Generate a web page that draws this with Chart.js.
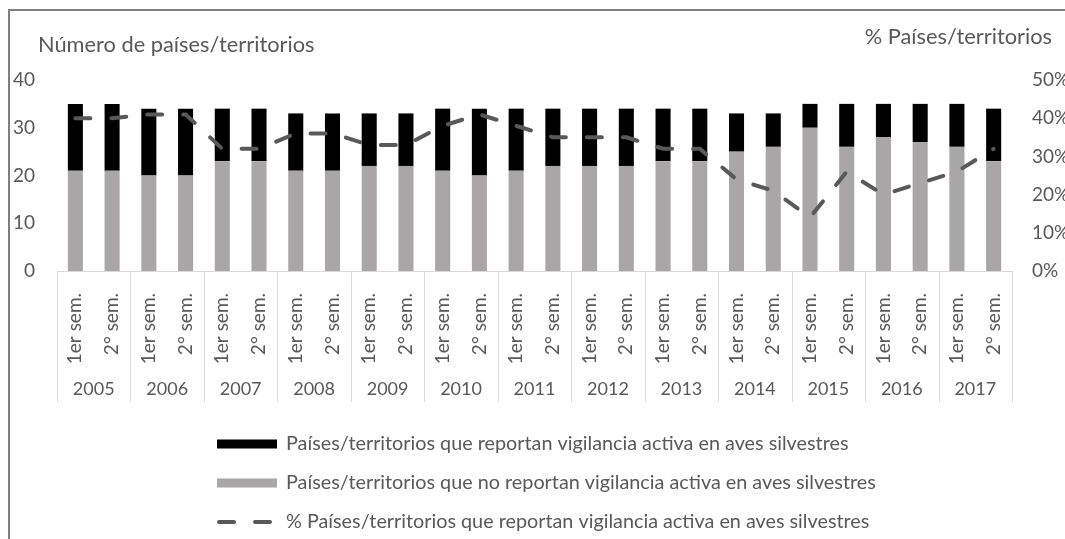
<!DOCTYPE html>
<html>
<head>
<meta charset="utf-8">
<script src="https://cdn.jsdelivr.net/npm/chart.js@4.4.0/dist/chart.umd.min.js"></script>
<style>
  html, body { margin: 0; padding: 0; background: #fff; }
</style>
</head>
<body>
<canvas id="chart" width="1065" height="539"></canvas>
<script>
// Datos
const semLabels = ['1er sem.', '2° sem.', '1er sem.', '2° sem.', '1er sem.', '2° sem.', '1er sem.', '2° sem.',
  '1er sem.', '2° sem.', '1er sem.', '2° sem.', '1er sem.', '2° sem.', '1er sem.', '2° sem.',
  '1er sem.', '2° sem.', '1er sem.', '2° sem.', '1er sem.', '2° sem.', '1er sem.', '2° sem.',
  '1er sem.', '2° sem.'];
const years = ['2005', '2006', '2007', '2008', '2009', '2010', '2011', '2012', '2013', '2014', '2015', '2016', '2017'];
const noReportan = [21, 21, 20, 20, 23, 23, 21, 21, 22, 22, 21, 20, 21, 22, 22, 22, 23, 23, 25, 26, 30, 26, 28, 27, 26, 23];
const reportan = [14, 14, 14, 14, 11, 11, 12, 12, 11, 11, 13, 14, 13, 12, 12, 12, 11, 11, 8, 7, 5, 9, 7, 8, 9, 11];
const pctReportan = [40, 40, 41, 41, 32, 32, 36, 36, 33, 33, 38, 41, 38, 35, 35, 35, 32, 32, 24, 21, 14, 26, 20, 23, 26, 32];
const leftTicks = [0, 10, 20, 30, 40];
const rightTicks = [0, 10, 20, 30, 40, 50];

const FONT = 'Lato';
const TEXT = '#595959';

// Plugin: marco, títulos de ejes, separadores de años y leyenda
const extras = {
  id: 'extras',
  beforeDraw(chart) {
    const c = chart.ctx;
    c.save();
    c.fillStyle = '#fff';
    c.fillRect(0, 0, chart.width, chart.height);
    c.strokeStyle = '#7f7f7f';
    c.lineWidth = 2;
    c.beginPath();
    c.moveTo(9, chart.height);
    c.lineTo(9, 10);
    c.lineTo(chart.width, 10);
    c.stroke();
    c.restore();
  },
  afterDraw(chart) {
    const c = chart.ctx;
    const x = chart.scales.x;
    const x2 = chart.scales.x2;
    c.save();
    // separadores de años
    c.strokeStyle = '#d9d9d9';
    c.lineWidth = 1;
    const step = (x.right - x.left) / years.length;
    for (let i = 0; i <= years.length; i++) {
      const px = Math.round(x.left + i * step) + 0.5;
      c.beginPath();
      c.moveTo(px, x.top);
      c.lineTo(px, x2.bottom);
      c.stroke();
    }
    // títulos de ejes
    c.fillStyle = TEXT;
    c.font = '21.8px ' + FONT;
    c.textBaseline = 'alphabetic';
    c.textAlign = 'left';
    c.fillText('Número de países/territorios', 38, 52);
    c.textAlign = 'right';
    c.fillText('% Países/territorios', 1052, 44);
    // leyenda
    const ds = chart.data.datasets;
    const rows = [ds[2], ds[1], ds[0]];
    c.textAlign = 'left';
    c.textBaseline = 'middle';
    c.font = '19.8px ' + FONT;
    rows.forEach((d, i) => {
      const y = 444 + i * 39;
      if (d.type === 'line') {
        c.strokeStyle = d.borderColor;
        c.lineWidth = d.borderWidth;
        c.lineCap = 'round';
        c.setLineDash(d.borderDash);
        c.beginPath();
        c.moveTo(219, y);
        c.lineTo(276, y);
        c.stroke();
        c.setLineDash([]);
      } else {
        c.fillStyle = d.backgroundColor;
        c.fillRect(217, y - 4.5, 60, 9);
      }
      c.fillStyle = TEXT;
      c.fillText(d.label, 286, y);
    });
    c.restore();
  }
};

new Chart(document.getElementById('chart'), {
  type: 'bar',
  data: {
    labels: semLabels,
    datasets: [
      {
        type: 'line',
        label: '% Países/territorios que reportan vigilancia activa en aves silvestres',
        data: pctReportan,
        yAxisID: 'y1',
        borderColor: '#595959',
        borderWidth: 4,
        borderDash: [15, 21],
        borderCapStyle: 'round',
        pointRadius: 0,
        tension: 0,
        order: 0
      },
      {
        label: 'Países/territorios que no reportan vigilancia activa en aves silvestres',
        data: noReportan,
        backgroundColor: '#a8a6a6',
        barPercentage: 0.82,
        categoryPercentage: 0.5,
        order: 1
      },
      {
        label: 'Países/territorios que reportan vigilancia activa en aves silvestres',
        data: reportan,
        backgroundColor: '#000000',
        barPercentage: 0.82,
        categoryPercentage: 0.5,
        order: 2
      }
    ]
  },
  options: {
    responsive: false,
    animation: false,
    layout: { padding: { left: 0, right: 0, top: 80, bottom: 137 } },
    plugins: {
      legend: { display: false },
      tooltip: { enabled: false }
    },
    scales: {
      x: {
        stacked: true,
        offset: true,
        grid: { display: false },
        border: { display: true, color: '#d9d9d9', width: 1 },
        ticks: {
          autoSkip: false, minRotation: 90, maxRotation: 90,
          padding: 14, color: TEXT, font: { family: FONT, size: 19 }
        },
        afterFit: s => { s.height = 100; }
      },
      x2: {
        type: 'category',
        labels: years,
        position: 'bottom',
        offset: true,
        grid: { display: false },
        border: { display: false },
        ticks: { padding: -1, color: TEXT, font: { family: FONT, size: 18 } },
        afterFit: s => { s.height = 31; }
      },
      y: {
        stacked: true,
        min: 0, max: 40,
        afterBuildTicks: s => { s.ticks = leftTicks.map(v => ({ value: v })); },
        grid: { display: false, drawTicks: false },
        border: { display: false },
        ticks: { padding: 22, color: TEXT, font: { family: FONT, size: 19 } },
        afterFit: s => { s.width = 57; }
      },
      y1: {
        position: 'right',
        min: 0, max: 50,
        afterBuildTicks: s => { s.ticks = rightTicks.map(v => ({ value: v })); },
        grid: { display: false, drawTicks: false },
        border: { display: false },
        ticks: { padding: 20, color: TEXT, font: { family: FONT, size: 19 }, callback: v => v + '%' },
        afterFit: s => { s.width = 53; }
      }
    }
  },
  plugins: [extras]
});
</script>
</body>
</html>
